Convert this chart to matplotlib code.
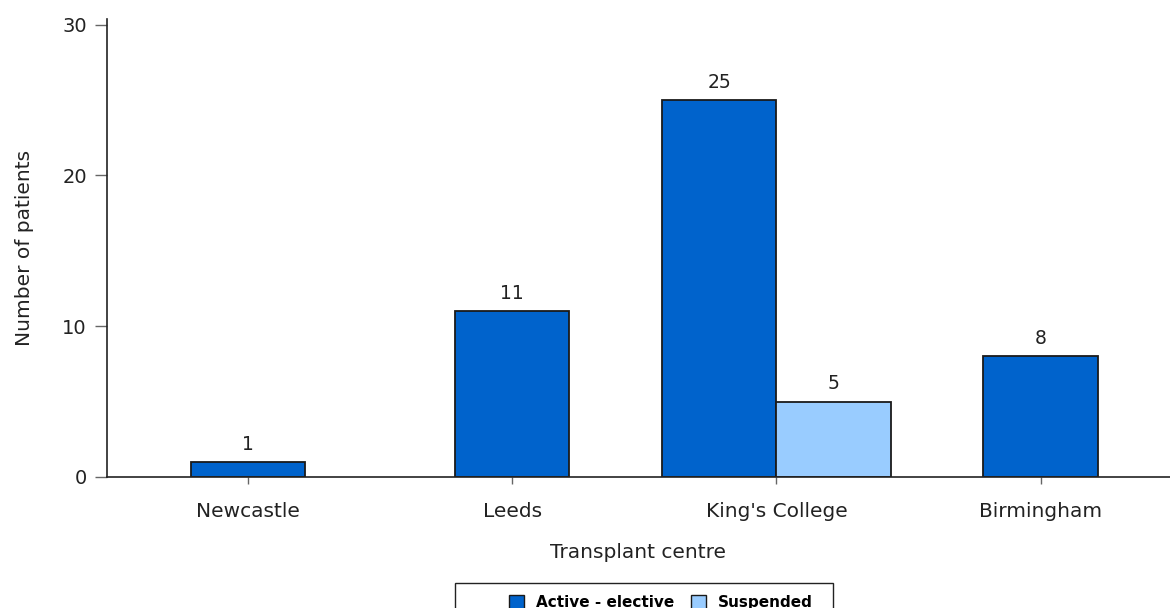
import matplotlib
matplotlib.use("Agg")
import matplotlib.pyplot as plt
from matplotlib.patches import Patch, Rectangle

# data
centres = ["Newcastle", "Leeds", "King's College", "Birmingham"]
active_elective = [1, 11, 25, 8]
suspended = [0, 0, 5, 0]

ACTIVE_COLOR = "#0063CC"
SUSPENDED_COLOR = "#99CCFF"
EDGE = "#1a1a1a"
TEXT = "#222222"

plt.rcParams["font.family"] = ["DejaVu Sans"]

W, H = 1170, 608
fig = plt.figure(figsize=(W / 100, H / 100), dpi=100)
ax = fig.add_axes([107 / W, 1 - 477 / H, 1 - 107 / W, (477 - 18.5) / H])

width = 0.432
for i, (a, s) in enumerate(zip(active_elective, suspended)):
    # single series is centred on the category, pairs sit side by side
    series = [(v, c) for v, c in ((a, ACTIVE_COLOR), (s, SUSPENDED_COLOR)) if v > 0]
    n = len(series)
    for j, (v, c) in enumerate(series):
        x = i + (j - (n - 1) / 2) * width
        ax.bar(x, v, width=width, color=c, edgecolor=EDGE, linewidth=1.3)
        ax.text(x, v + 0.55, str(v), ha="center", va="bottom", fontsize=13.5, color=TEXT)

ax.set_xlim(-0.534, 3.49)
ax.set_ylim(0, 30.4)
ax.set_yticks([0, 10, 20, 30])
ax.set_xticks(range(len(centres)))
ax.set_xticklabels(centres)
ax.tick_params(axis="x", length=5, width=1, color="#666666", pad=13, labelsize=14.5, labelcolor=TEXT)
ax.tick_params(axis="y", length=8.5, width=1, color="#666666", pad=6, labelsize=14, labelcolor=TEXT)

for side in ("top", "right"):
    ax.spines[side].set_visible(False)
for side in ("left", "bottom"):
    ax.spines[side].set_linewidth(1.2)
    ax.spines[side].set_color(TEXT)

ax.set_xlabel("Transplant centre", fontsize=14.5, color=TEXT, labelpad=16)
ax.set_ylabel("Number of patients", fontsize=14.5, color=TEXT, labelpad=20)

# legend box at the bottom (runs off the lower edge in the reference)
fig.patches.append(Rectangle((455 / W, -0.01), (833 - 455) / W, (608 - 583) / H + 0.01,
                             transform=fig.transFigure, facecolor="white",
                             edgecolor=TEXT, linewidth=1.0))
handles = [
    Patch(facecolor=ACTIVE_COLOR, edgecolor=EDGE, label="Active - elective"),
    Patch(facecolor=SUSPENDED_COLOR, edgecolor=EDGE, label="Suspended"),
]
fig.legend(handles=handles, loc="upper left", bbox_to_anchor=(497 / W, 1 - 583 / H),
           ncol=2, frameon=False, prop={"size": 11, "weight": "bold"},
           handlelength=0.95, handleheight=0.95, columnspacing=1.1, handletextpad=0.8,
           borderpad=0.3)

fig.savefig("out.png", dpi=100)
